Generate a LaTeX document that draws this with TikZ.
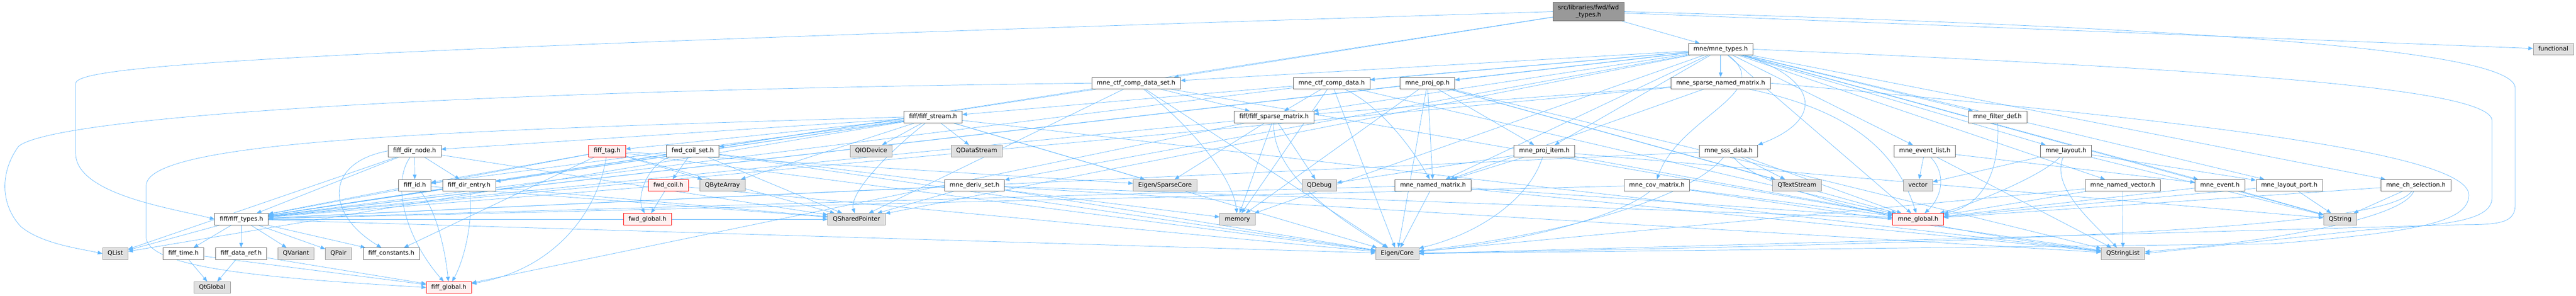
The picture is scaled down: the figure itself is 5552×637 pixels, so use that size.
\documentclass[tikz,border=0pt]{standalone}
\usepackage{fontspec}
\setmainfont{DejaVu Sans}
\usetikzlibrary{arrows.meta,backgrounds,positioning}

\definecolor{edgeblue}{HTML}{63B8FF}
\definecolor{boxline}{HTML}{666666}
\definecolor{sysline}{HTML}{999999}
\definecolor{sysfill}{HTML}{E0E0E0}
\definecolor{redfill}{HTML}{FFF0F0}
\definecolor{topfill}{HTML}{999999}

\begin{document}
\begin{tikzpicture}[x=1pt,y=-1pt,
  box/.style={draw=boxline,fill=white,line width=0.8pt,minimum height=25pt,
    inner xsep=11pt,inner ysep=0pt,text height=9.5pt,text depth=3pt,
    font=\fontsize{13}{16}\selectfont},
  sysbox/.style={box,draw=sysline,fill=sysfill},
  redbox/.style={box,draw=red,fill=redfill},
  topbox/.style={draw=boxline,fill=topfill,line width=0.8pt,minimum height=40pt,
    inner xsep=11pt,inner ysep=2pt,align=center,font=\fontsize{13}{16}\selectfont},
  inc/.style={draw=edgeblue,line width=0.8pt,-{Triangle[length=10pt,width=8pt]}}]

\useasboundingbox (0,0) rectangle (5552,637);

% Rank 0 and 1
\node[topbox] (fwdtypes) at (3423.5,25) {src/libraries/fwd/fwd\\\_types.h};
\node[box] (mnetypes) at (3708.5,106) {mne/mne\_types.h};
\node[sysbox] (functional) at (5503,106) {functional};

% Rank 2
\node[box] (ctfdataset) at (2448.5,179) {mne\_ctf\_comp\_data\_set.h};
\node[box] (ctfdata) at (2870,179) {mne\_ctf\_comp\_data.h};
\node[box] (projop) at (3076.5,179) {mne\_proj\_op.h};
\node[box] (sparsenamed) at (3708.5,179) {mne\_sparse\_named\_matrix.h};

% Rank 3
\node[box] (fiffstream) at (2011,252) {fiff/fiff\_stream.h};
\node[box] (fiffsparse) at (2746,252) {fiff/fiff\_sparse\_matrix.h};
\node[box] (filterdef) at (4305,252) {mne\_filter\_def.h};

% Rank 4
\node[box] (dirnode) at (893.5,325) {fiff\_dir\_node.h};
\node[redbox] (fifftag) at (1308.5,325) {fiff\_tag.h};
\node[box] (coilset) at (1493,325) {fwd\_coil\_set.h};
\node[sysbox] (qiodevice) at (1877.5,325) {QIODevice};
\node[sysbox] (qdatastream) at (2105,325) {QDataStream};
\node[box] (projitem) at (3328.5,325) {mne\_proj\_item.h};
\node[box] (sssdata) at (3725.5,325) {mne\_sss\_data.h};
\node[box] (eventlist) at (4148.5,325) {mne\_event\_list.h};
\node[box] (layout) at (4452.5,325) {mne\_layout.h};

% Rank 5
\node[box] (fiffid) at (894,399) {fiff\_id.h};
\node[box] (direntry) at (1011,399) {fiff\_dir\_entry.h};
\node[redbox] (fwdcoil) at (1440.5,399) {fwd\_coil.h};
\node[sysbox] (qbytearray) at (1557,399) {QByteArray};
\node[box] (derivset) at (2100.5,399) {mne\_deriv\_set.h};
\node[sysbox] (sparsecore) at (2511,399) {Eigen/SparseCore};
\node[sysbox] (qdebug) at (2843.5,399) {QDebug};
\node[box] (namedmatrix) at (3088.5,399) {mne\_named\_matrix.h};
\node[box] (covmatrix) at (3571,399) {mne\_cov\_matrix.h};
\node[sysbox] (qtextstream) at (3873,399) {QTextStream};
\node[sysbox] (vector) at (4133.5,399) {vector};
\node[box] (namedvector) at (4575,399) {mne\_named\_vector.h};
\node[box] (mneevent) at (4784.5,399) {mne\_event.h};
\node[box] (layoutport) at (4934,399) {mne\_layout\_port.h};
\node[box] (chselection) at (5207,399) {mne\_ch\_selection.h};

% Rank 6
\node[box] (fifftypes) at (520.5,472) {fiff/fiff\_types.h};
\node[redbox] (fwdglobal) at (1395.5,472) {fwd\_global.h};
\node[sysbox] (qsharedptr) at (1846,472) {QSharedPointer};
\node[sysbox] (memory) at (2667,472) {memory};
\node[redbox] (mneglobal) at (4134,472) {mne\_global.h};
\node[sysbox] (qstring) at (5043.5,472) {QString};

% Rank 7
\node[sysbox] (qlist) at (248.5,546) {QList};
\node[box] (fifftime) at (395.5,546) {fiff\_time.h};
\node[box] (fiffdataref) at (519.5,546) {fiff\_data\_ref.h};
\node[sysbox] (qvariant) at (638,546) {QVariant};
\node[sysbox] (qpair) at (729.5,546) {QPair};
\node[box] (fiffconst) at (843.5,546) {fiff\_constants.h};
\node[sysbox] (eigencore) at (3011.5,546) {Eigen/Core};
\node[sysbox] (qstringlist) at (4575.5,546) {QStringList};

% Rank 8
\node[sysbox] (qtglobal) at (457.5,619) {QtGlobal};
\node[redbox] (fiffglobal) at (967.5,619) {fiff\_global.h};

\begin{pgfonlayer}{background}
% Drawing edges of fwd_types.h
\draw[inc] (fwdtypes) -- (mnetypes);
\draw[inc] (fwdtypes) -- (functional);
\draw[inc] (fwdtypes) -- (coilset);
\draw[inc] (fwdtypes) -- (ctfdataset);
\draw[inc] (fwdtypes.west) .. controls (600,110) and (163,140) .. (163,180) -- (163,330) .. controls (163,420) and (380,450) .. (fifftypes.west);
\draw[inc] (fwdtypes.east) .. controls (4800,60) and (5421,110) .. (5421,190) -- (5421,440) .. controls (5421,480) and (5390,484) .. (5300,484) -- (eigencore.east);

% Drawing edges of mne_types.h
\draw[inc] (mnetypes) -- (sparsenamed);
\draw[inc] (mnetypes) .. controls (3900,160) and (3950,250) .. (sssdata.north east);
\draw[inc] (mnetypes) .. controls (3830,200) and (3620,250) .. (covmatrix.north);
\draw[inc] (mnetypes) -- (filterdef);
\draw[inc] (mnetypes) -- (eventlist);
\draw[inc] (mnetypes) -- (layout);
\draw[inc] (mnetypes) -- (namedvector);
\draw[inc] (mnetypes) -- (mneevent);
\draw[inc] (mnetypes) -- (layoutport);
\draw[inc] (mnetypes) -- (chselection);
\draw[inc] (mnetypes) -- (projop);
\draw[inc] (mnetypes) -- (ctfdata);
\draw[inc] (mnetypes) -- (ctfdataset);
\draw[inc] (mnetypes) -- (fiffsparse);
\draw[inc] (mnetypes) -- (fiffstream);
\draw[inc] (mnetypes) -- (namedmatrix);
\draw[inc] (mnetypes) -- (projitem);
\draw[inc] (mnetypes) -- (derivset);
\draw[inc] (mnetypes) -- (mneglobal);
\draw[inc] (mnetypes) -- (qstring);
\draw[inc] (mnetypes) -- (fifftypes);
\draw[inc] (mnetypes) -- (memory);
\draw[inc] (mnetypes) -- (qsharedptr);
\draw[inc] (mnetypes.east) .. controls (4800,150) and (5371,190) .. (5371,260) -- (5371,426) .. controls (5371,480) and (5250,485) .. (5100,495) -- (qstringlist.east);

% Drawing edges of mne_ctf_comp_data_set.h
\draw[inc] (ctfdataset) -- (fiffsparse);
\draw[inc] (ctfdataset) .. controls (2600,300) and (2660,400) .. (memory);
\draw[inc] (ctfdataset) -- (fifftypes);
\draw[inc] (ctfdataset) -- (eigencore);
\draw[inc] (ctfdataset) -- (mneglobal);
\draw[inc] (ctfdataset) -- (qsharedptr);
\draw[inc] (ctfdataset.west) .. controls (1000,195) and (120,250) .. (40,315) .. controls (0,370) and (0,440) .. (45,488) .. controls (90,525) and (170,535) .. (qlist.west);

% Drawing edges of mne_ctf_comp_data.h
\draw[inc] (ctfdata) -- (fiffsparse);
\draw[inc] (ctfdata) .. controls (2980,230) and (3050,330) .. (namedmatrix);
\draw[inc] (ctfdata) -- (eigencore);
\draw[inc] (ctfdata) -- (fifftypes);
\draw[inc] (ctfdata) -- (mneglobal);
\draw[inc] (ctfdata) -- (memory);

% Drawing edges of mne_proj_op.h
\draw[inc] (projop) -- (projitem);
\draw[inc] (projop) -- (namedmatrix);
\draw[inc] (projop) -- (memory);
\draw[inc] (projop) -- (qtextstream);
\draw[inc] (projop) -- (mneglobal);
\draw[inc] (projop) -- (qstringlist);
\draw[inc] (projop) -- (fifftypes);
\draw[inc] (projop) -- (eigencore);

% Drawing edges of mne_sparse_named_matrix.h
\draw[inc] (sparsenamed) -- (fiffsparse);
\draw[inc] (sparsenamed) -- (namedmatrix);
\draw[inc] (sparsenamed) .. controls (3950,230) and (4080,300) .. (mneglobal);
\draw[inc] (sparsenamed) -- (fifftypes);
\draw[inc] (sparsenamed.east) .. controls (4600,250) and (5321,320) .. (5321,420) .. controls (5321,480) and (5200,500) .. (4900,525) -- (eigencore.east);

% Drawing edges of fiff/fiff_stream.h
\draw[inc] (fiffstream) -- (qiodevice);
\draw[inc] (fiffstream) -- (qdatastream);
\draw[inc] (fiffstream) .. controls (1900,340) and (1830,420) .. (qsharedptr);
\draw[inc] (fiffstream) -- (fifftag);
\draw[inc] (fiffstream) -- (dirnode);
\draw[inc] (fiffstream) -- (fiffid);
\draw[inc] (fiffstream) -- (direntry);
\draw[inc] (fiffstream) -- (qbytearray);
\draw[inc] (fiffstream) -- (qlist);
\draw[inc] (fiffstream) -- (fifftypes);
\draw[inc] (fiffstream) -- (qstringlist);
\draw[inc] (fiffstream) -- (sparsecore);
\draw[inc] (fiffstream) -- (eigencore);
\draw[inc] (fiffstream.west) .. controls (1000,280) and (315,300) .. (315,400) -- (315,510) .. controls (315,580) and (600,600) .. (fiffglobal.west);

% Drawing edges of fiff/fiff_sparse_matrix.h
\draw[inc] (fiffsparse) -- (sparsecore);
\draw[inc] (fiffsparse) -- (memory);
\draw[inc] (fiffsparse) -- (qdebug);
\draw[inc] (fiffsparse) .. controls (2740,380) and (2900,480) .. (eigencore);
\draw[inc] (fiffsparse) -- (fifftypes);
\draw[inc] (fiffsparse) -- (fiffglobal);

% Drawing edge of mne_filter_def.h
\draw[inc] (filterdef) .. controls (4310,360) and (4280,440) .. (mneglobal);

% Drawing edges of fiff_dir_node.h
\draw[inc] (dirnode) -- (fiffid);
\draw[inc] (dirnode) -- (direntry);
\draw[inc] (dirnode) .. controls (840,400) and (880,520) .. (fiffglobal);
\draw[inc] (dirnode) -- (fifftypes);
\draw[inc] (dirnode.west) .. controls (700,350) and (700,460) .. (fiffconst);
\draw[inc] (dirnode) -- (qsharedptr);
\draw[inc] (dirnode) -- (qlist);

% Drawing edges of fiff_tag.h
\draw[inc] (fifftag) -- (fiffid);
\draw[inc] (fifftag) -- (fiffconst);
\draw[inc] (fifftag) .. controls (1290,450) and (1200,580) .. (fiffglobal);
\draw[inc] (fifftag) -- (fifftypes);
\draw[inc] (fifftag) -- (qbytearray);
\draw[inc] (fifftag) -- (qsharedptr);
\draw[inc] (fifftag) -- (sparsecore);
\draw[inc] (fifftag) -- (eigencore);

% Drawing edges of fwd_coil_set.h
\draw[inc] (coilset) -- (fwdcoil);
\draw[inc] (coilset) .. controls (1400,350) and (1370,420) .. (fwdglobal);
\draw[inc] (coilset) -- (qsharedptr);
\draw[inc] (coilset) -- (eigencore);
\draw[inc] (coilset) -- (fifftypes);
\draw[inc] (coilset) -- (memory);

% Drawing edges of fwd_coil.h
\draw[inc] (fwdcoil) -- (fwdglobal);
\draw[inc] (fwdcoil) -- (eigencore);
\draw[inc] (fwdcoil) -- (fifftypes);

% Drawing edges of mne_proj_item.h
\draw[inc] (projitem) -- (namedmatrix);
\draw[inc] (projitem) .. controls (3300,420) and (3200,500) .. (eigencore);
\draw[inc] (projitem) -- (mneglobal);
\draw[inc] (projitem) -- (qstring);
\draw[inc] (projitem) -- (qdebug);

% Drawing edges of mne_sss_data.h
\draw[inc] (sssdata) -- (qtextstream);
\draw[inc] (sssdata) .. controls (3650,420) and (3400,500) .. (eigencore);
\draw[inc] (sssdata) .. controls (3800,420) and (4200,500) .. (qstringlist);
\draw[inc] (sssdata) -- (fifftypes);
\draw[inc] (sssdata) -- (mneglobal);

% Drawing edges of mne_event_list.h
\draw[inc] (eventlist) -- (vector);
\draw[inc] (eventlist) .. controls (4200,380) and (4180,430) .. (mneglobal);
\draw[inc] (eventlist) -- (mneevent);
\draw[inc] (eventlist) -- (qstringlist);

% Drawing edges of mne_layout.h
\draw[inc] (layout) -- (vector);
\draw[inc] (layout) .. controls (4400,380) and (4250,440) .. (mneglobal);
\draw[inc] (layout) -- (layoutport);
\draw[inc] (layout) -- (qstring);
\draw[inc] (layout) .. controls (4420,400) and (4500,470) .. (qstringlist);

% Drawing edges of mne_deriv_set.h
\draw[inc] (derivset) -- (mneglobal);
\draw[inc] (derivset) -- (eigencore);
\draw[inc] (derivset) -- (qstringlist);
\draw[inc] (derivset) -- (qsharedptr);
\draw[inc] (derivset) -- (fifftypes);

% Drawing edges of mne_named_matrix.h
\draw[inc] (namedmatrix) -- (eigencore);
\draw[inc] (namedmatrix) -- (mneglobal);
\draw[inc] (namedmatrix) -- (qstringlist);
\draw[inc] (namedmatrix) -- (fifftypes);

% Drawing edges of mne_cov_matrix.h
\draw[inc] (covmatrix) -- (mneglobal);
\draw[inc] (covmatrix) .. controls (3500,460) and (3300,520) .. (eigencore);
\draw[inc] (covmatrix) -- (qstringlist);
\draw[inc] (covmatrix) -- (fifftypes);

% Drawing edges of mne_named_vector.h
\draw[inc] (namedvector) -- (qstringlist);
\draw[inc] (namedvector) -- (mneglobal);
\draw[inc] (namedvector) -- (eigencore);

% Drawing edges of mne_event.h, mne_layout_port.h, mne_ch_selection.h
\draw[inc] (mneevent) -- (mneglobal);
\draw[inc] (mneevent) -- (qstring);
\draw[inc] (layoutport) -- (qstring);
\draw[inc] (layoutport) -- (mneglobal);
\draw[inc] (chselection) -- (qstring);
\draw[inc] (chselection) -- (mneglobal);
\draw[inc] (chselection) .. controls (5150,480) and (4600,520) .. (eigencore);
\draw[inc] (chselection) .. controls (5180,470) and (4900,520) .. (qstringlist);

% Drawing edges of fiff_id.h and fiff_dir_entry.h
\draw[inc] (fiffid) .. controls (940,450) and (960,540) .. (fiffglobal);
\draw[inc] (fiffid) -- (fifftypes);
\draw[inc] (fiffid) -- (qsharedptr);
\draw[inc] (direntry) .. controls (1020,480) and (1000,560) .. (fiffglobal);
\draw[inc] (direntry) -- (fifftypes);
\draw[inc] (direntry) -- (qsharedptr);

% Drawing edges of fiff/fiff_types.h
\draw[inc] (fifftypes) -- (qlist);
\draw[inc] (fifftypes) -- (fifftime);
\draw[inc] (fifftypes) -- (fiffdataref);
\draw[inc] (fifftypes) -- (qvariant);
\draw[inc] (fifftypes) -- (qpair);
\draw[inc] (fifftypes) -- (fiffconst);
\draw[inc] (fifftypes) -- (qsharedptr);
\draw[inc] (fifftypes) -- (eigencore);

% Drawing edges of fiff_time.h and fiff_data_ref.h
\draw[inc] (fifftime) -- (qtglobal);
\draw[inc] (fifftime) -- (fiffglobal);
\draw[inc] (fiffdataref) -- (qtglobal);
\draw[inc] (fiffdataref) -- (fiffglobal);
\end{pgfonlayer}
\end{tikzpicture}
\end{document}
